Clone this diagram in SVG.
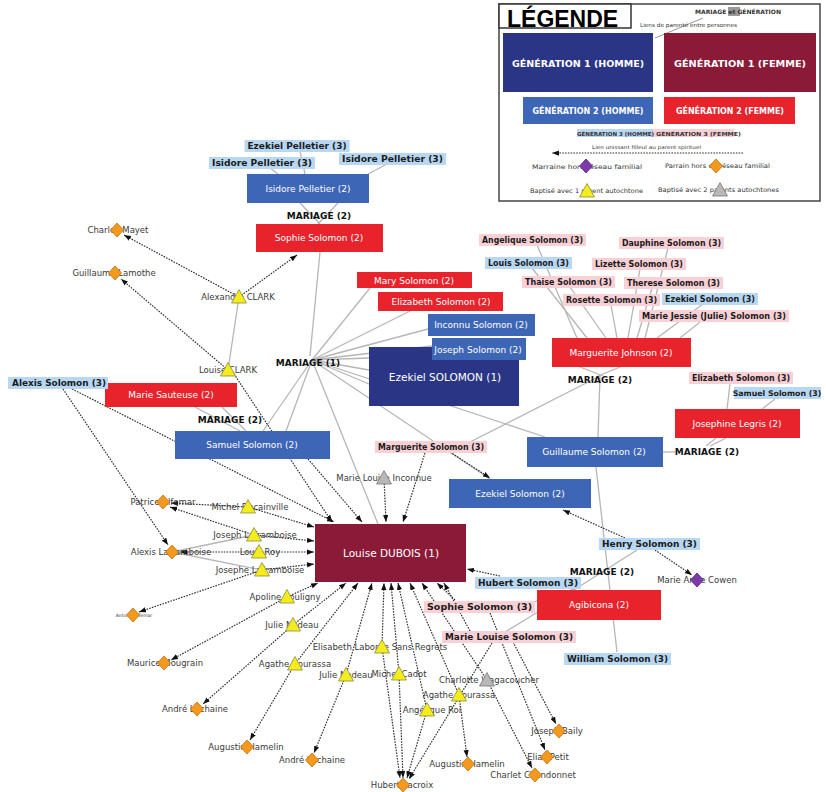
<svg xmlns="http://www.w3.org/2000/svg" xmlns:xlink="http://www.w3.org/1999/xlink" width="826" height="792" viewBox="0 0 826 792">
<defs>
<marker id="ah" viewBox="0 0 8 6" markerWidth="7" markerHeight="5.5" refX="8" refY="3" orient="auto" markerUnits="userSpaceOnUse"><path d="M0,0 L8,3 L0,6 Z" fill="#111"/></marker>
<path id="dm" d="M0,-7 L6.5,0 L0,7 L-6.5,0 Z"/>
<path id="tr" d="M0,-7.5 L7.5,6 L-7.5,6 Z"/>
<style>
.g{stroke:#b6b6b6;stroke-width:1.3;fill:none}
.d{stroke:#333;stroke-width:1.2;stroke-dasharray:1.6 1.2;fill:none;marker-end:url(#ah)}
.b1m{fill:#2a3685}.b1f{fill:#8b1a37}.b2m{fill:#3e66b6}.b2f{fill:#e8232b}
.t3m{fill:#b7d7f3}.t3f{fill:#f8d0d5}
.bt{font-family:"DejaVu Sans",Verdana,sans-serif;font-size:9px;fill:#fff;text-anchor:middle}
.bt1{font-size:10.5px}
.l3{font-family:"DejaVu Sans",Verdana,sans-serif;font-weight:bold;font-size:8.7px;fill:#1b1b1b;text-anchor:middle}
.mar{font-family:"DejaVu Sans",Verdana,sans-serif;font-weight:bold;font-size:9px;fill:#111;text-anchor:middle}
.nl{font-family:"DejaVu Sans",Verdana,sans-serif;font-size:8.5px;fill:#3a3a3a;text-anchor:middle}
.dia{fill:#f39a1e;stroke:#c6700f;stroke-width:0.8}
.pur{fill:#7d3aa8;stroke:#57277c;stroke-width:0.8}
.tri{fill:#f4ec1c;stroke:#8d8d3a;stroke-width:0.8}
.trg{fill:#b8b8b8;stroke:#777;stroke-width:0.8}
.lg{font-family:"DejaVu Sans",Verdana,sans-serif;fill:#333}
</style>
</defs>
<rect width="826" height="792" fill="#fff"/>

<g id="legend">
<rect x="499" y="4" width="321" height="197" fill="#fff" stroke="#444" stroke-width="1.5"/>
<rect x="499" y="4" width="132" height="24" fill="#fff" stroke="#333" stroke-width="1.5"/>
<text x="507" y="26.5" font-family="Liberation Sans,Arial,sans-serif" font-weight="bold" font-size="23" fill="#000">LÉGENDE</text>
<rect x="728" y="7" width="12" height="9" fill="#9a9a9a"/>
<text class="lg" x="695" y="14" font-size="6" font-weight="bold" textLength="86" lengthAdjust="spacingAndGlyphs">MARIAGE et GÉNÉRATION</text>
<line x1="655" y1="38" x2="703" y2="18" stroke="#999" stroke-width="1"/>
<text class="lg" x="640" y="27" font-size="5.5" fill="#555" textLength="97" lengthAdjust="spacingAndGlyphs">Liens de parenté entre personnes</text>
<rect x="503" y="33" width="150" height="59" class="b1m"/>
<text class="bt" x="578" y="66.5" font-weight="bold" font-size="9.5" textLength="132" lengthAdjust="spacingAndGlyphs">GÉNÉRATION 1 (HOMME)</text>
<rect x="664" y="33" width="152" height="59" class="b1f"/>
<text class="bt" x="740" y="66.5" font-weight="bold" font-size="9.5" textLength="132" lengthAdjust="spacingAndGlyphs">GÉNÉRATION 1 (FEMME)</text>
<rect x="523" y="97" width="130" height="27" class="b2m"/>
<text class="bt" x="588" y="113.5" font-weight="bold" font-size="8" textLength="111" lengthAdjust="spacingAndGlyphs">GÉNÉRATION 2 (HOMME)</text>
<rect x="664" y="97" width="131" height="27" class="b2f"/>
<text class="bt" x="730" y="113.5" font-weight="bold" font-size="8" textLength="108" lengthAdjust="spacingAndGlyphs">GÉNÉRATION 2 (FEMME)</text>
<rect x="577" y="129" width="76" height="8" class="t3m"/>
<rect x="653" y="129" width="81" height="8" class="t3f"/>
<text class="lg" x="577" y="135.5" font-size="5.5" font-weight="bold" fill="#222" textLength="77" lengthAdjust="spacingAndGlyphs">GÉNÉRATION 3 (HOMME)</text>
<text class="lg" x="656" y="135.5" font-size="5.5" font-weight="bold" fill="#222" textLength="85" lengthAdjust="spacingAndGlyphs">GÉNÉRATION 3 (FEMME)</text>
<text class="lg" x="592" y="149" font-size="5" textLength="109" lengthAdjust="spacingAndGlyphs">Lien unissant filleul au parent spirituel</text>
<line x1="743" y1="153" x2="552" y2="153" class="d"/>
<text class="lg" x="532" y="168.5" font-size="6.3" textLength="110" lengthAdjust="spacingAndGlyphs">Marraine hors réseau familial</text>
<use xlink:href="#dm" x="586" y="166" class="pur"/>
<text class="lg" x="665" y="168" font-size="6.3" textLength="105" lengthAdjust="spacingAndGlyphs">Parrain hors du réseau familial</text>
<use xlink:href="#dm" x="716" y="166" class="dia"/>
<text class="lg" x="530" y="193" font-size="6.3" textLength="113" lengthAdjust="spacingAndGlyphs">Baptisé avec 1 parent autochtone</text>
<use xlink:href="#tr" x="587" y="191" class="tri"/>
<text class="lg" x="658" y="192" font-size="6.3" textLength="121" lengthAdjust="spacingAndGlyphs">Baptisé avec 2 parents autochtones</text>
<use xlink:href="#tr" x="720" y="190" class="trg"/>
</g>

<g id="connectors">
<line class="g" x1="300" y1="151" x2="305" y2="174"/>
<line class="g" x1="270" y1="168" x2="278" y2="174"/>
<line class="g" x1="387" y1="164" x2="368" y2="174"/>
<line class="g" x1="300" y1="203" x2="320" y2="224"/>
<line class="g" x1="338" y1="203" x2="318" y2="224"/>
<line class="g" x1="320" y1="252" x2="310" y2="356"/>
<line class="g" x1="312" y1="360" x2="370" y2="288"/>
<line class="g" x1="312" y1="360" x2="410" y2="311"/>
<line class="g" x1="312" y1="360" x2="428" y2="329"/>
<line class="g" x1="312" y1="360" x2="432" y2="346"/>
<line class="g" x1="312" y1="360" x2="369" y2="358"/>
<line class="g" x1="312" y1="360" x2="369" y2="370"/>
<line class="g" x1="312" y1="360" x2="369" y2="384"/>
<line class="g" x1="312" y1="360" x2="263" y2="431"/>
<line class="g" x1="312" y1="360" x2="286" y2="431"/>
<line class="g" x1="312" y1="360" x2="378" y2="524"/>
<line class="g" x1="312" y1="360" x2="490" y2="479"/>
<line class="g" x1="312" y1="360" x2="545" y2="437"/>
<line class="g" x1="239" y1="297" x2="228" y2="370"/>
<line class="g" x1="195" y1="407" x2="240" y2="431"/>
<line class="g" x1="222" y1="407" x2="246" y2="431"/>
<line class="g" x1="254" y1="535" x2="172" y2="552"/>
<line class="g" x1="262" y1="570" x2="172" y2="552"/>
<line class="g" x1="537" y1="245" x2="577" y2="338"/>
<line class="g" x1="532" y1="268" x2="587" y2="338"/>
<line class="g" x1="570" y1="287" x2="606" y2="338"/>
<line class="g" x1="611" y1="305" x2="617" y2="338"/>
<line class="g" x1="640" y1="269" x2="628" y2="338"/>
<line class="g" x1="652" y1="288" x2="637" y2="338"/>
<line class="g" x1="668" y1="248" x2="645" y2="338"/>
<line class="g" x1="703" y1="304" x2="657" y2="338"/>
<line class="g" x1="700" y1="322" x2="680" y2="338"/>
<line class="g" x1="580" y1="367" x2="603" y2="376"/>
<line class="g" x1="620" y1="367" x2="598" y2="376"/>
<line class="g" x1="600" y1="376" x2="598" y2="437"/>
<line class="g" x1="600" y1="376" x2="470" y2="442"/>
<line class="g" x1="730" y1="384" x2="727" y2="409"/>
<line class="g" x1="775" y1="399" x2="762" y2="409"/>
<line class="g" x1="663" y1="452" x2="675" y2="452"/>
<line class="g" x1="706" y1="446" x2="716" y2="438"/>
<line class="g" x1="710" y1="446" x2="726" y2="438"/>
<line class="g" x1="577" y1="588" x2="637" y2="550"/>
<line class="g" x1="577" y1="588" x2="500" y2="613"/>
<line class="g" x1="577" y1="588" x2="505" y2="632"/>
<line class="g" x1="596" y1="467" x2="617" y2="652"/>

<line class="d" x1="239" y1="297" x2="124" y2="235"/>
<line class="d" x1="239" y1="297" x2="297" y2="255"/>
<line class="d" x1="228" y1="370" x2="121" y2="279"/>
<line class="d" x1="234" y1="374" x2="332" y2="522"/>
<line class="d" x1="63" y1="389" x2="168" y2="545"/>
<line class="d" x1="72" y1="389" x2="334" y2="522"/>
<line class="d" x1="308" y1="459" x2="362" y2="522"/>
<line class="d" x1="248" y1="507" x2="171" y2="503"/>
<line class="d" x1="248" y1="507" x2="314" y2="527"/>
<line class="d" x1="254" y1="535" x2="170" y2="507"/>
<line class="d" x1="254" y1="535" x2="314" y2="541"/>
<line class="d" x1="259" y1="552" x2="180" y2="552"/>
<line class="d" x1="259" y1="552" x2="314" y2="552"/>
<line class="d" x1="262" y1="570" x2="139" y2="612"/>
<line class="d" x1="262" y1="570" x2="314" y2="564"/>
<line class="d" x1="287" y1="597" x2="318" y2="583"/>
<line class="d" x1="287" y1="597" x2="171" y2="660"/>
<line class="d" x1="293" y1="625" x2="346" y2="583"/>
<line class="d" x1="293" y1="625" x2="203" y2="704"/>
<line class="d" x1="295" y1="664" x2="358" y2="583"/>
<line class="d" x1="295" y1="664" x2="250" y2="740"/>
<line class="d" x1="346" y1="675" x2="372" y2="583"/>
<line class="d" x1="346" y1="675" x2="314" y2="753"/>
<line class="d" x1="382" y1="647" x2="384" y2="583"/>
<line class="d" x1="382" y1="647" x2="400" y2="778"/>
<line class="d" x1="399" y1="674" x2="391" y2="583"/>
<line class="d" x1="399" y1="674" x2="403" y2="778"/>
<line class="d" x1="427" y1="710" x2="398" y2="583"/>
<line class="d" x1="427" y1="710" x2="407" y2="778"/>
<line class="d" x1="459" y1="695" x2="410" y2="583"/>
<line class="d" x1="459" y1="695" x2="467" y2="757"/>
<line class="d" x1="487" y1="680" x2="422" y2="583"/>
<line class="d" x1="487" y1="680" x2="532" y2="768"/>
<line class="d" x1="455" y1="600" x2="437" y2="583"/>
<line class="d" x1="490" y1="613" x2="545" y2="750"/>
<line class="d" x1="470" y1="631" x2="444" y2="583"/>
<line class="d" x1="513" y1="642" x2="556" y2="724"/>
<line class="d" x1="492" y1="643" x2="409" y2="779"/>
<line class="d" x1="500" y1="576" x2="467" y2="569"/>
<line class="d" x1="384" y1="478" x2="386" y2="522"/>
<line class="d" x1="425" y1="453" x2="403" y2="522"/>
<line class="d" x1="450" y1="452" x2="490" y2="478"/>
<line class="d" x1="625" y1="538" x2="563" y2="510"/>
<line class="d" x1="655" y1="550" x2="692" y2="575"/>
</g>

<g id="n-mariage-labels">
<text class="mar" x="319" y="219">MARIAGE (2)</text>
<text class="mar" x="308" y="366">MARIAGE (1)</text>
<text class="mar" x="230" y="423">MARIAGE (2)</text>
<text class="mar" x="600" y="383">MARIAGE (2)</text>
<text class="mar" x="707" y="455">MARIAGE (2)</text>
<text class="mar" x="602" y="575">MARIAGE (2)</text>
</g>

<g id="n-isidore-pelletier-2"><rect x="247" y="174" width="122" height="29" class="b2m"/><text class="bt" x="308" y="192">Isidore Pelletier (2)</text></g>
<g id="n-sophie-solomon-2"><rect x="256" y="224" width="127" height="28" class="b2f"/><text class="bt" x="319" y="241">Sophie Solomon (2)</text></g>
<g id="n-mary-solomon-2"><rect x="357" y="272" width="115" height="16" class="b2f"/><text class="bt" x="414" y="283.5">Mary Solomon (2)</text></g>
<g id="n-elizabeth-solomon-2"><rect x="378" y="292" width="125" height="19" class="b2f"/><text class="bt" x="441" y="304.5">Elizabeth Solomon (2)</text></g>
<g id="n-inconnu-solomon-2"><rect x="428" y="314" width="107" height="22" class="b2m"/><text class="bt" x="481" y="328">Inconnu Solomon (2)</text></g>
<g id="n-ezekiel-solomon-1"><rect x="369" y="347" width="150" height="59" class="b1m"/><text class="bt bt1" x="445" y="381">Ezekiel SOLOMON (1)</text></g>
<g id="n-joseph-solomon-2"><rect x="432" y="338" width="94" height="22" class="b2m"/><text class="bt" x="478" y="352.5">Joseph Solomon (2)</text></g>
<g id="n-marie-sauteuse-2"><rect x="105" y="383" width="132" height="24" class="b2f"/><text class="bt" x="171" y="398">Marie Sauteuse (2)</text></g>
<g id="n-samuel-solomon-2"><rect x="175" y="431" width="155" height="28" class="b2m"/><text class="bt" x="252" y="448">Samuel Solomon (2)</text></g>
<g id="n-marguerite-johnson-2"><rect x="552" y="338" width="139" height="29" class="b2f"/><text class="bt" x="621" y="356">Marguerite Johnson (2)</text></g>
<g id="n-josephine-legris-2"><rect x="675" y="409" width="125" height="29" class="b2f"/><text class="bt" x="737" y="426.5">Josephine Legris (2)</text></g>
<g id="n-guillaume-solomon-2"><rect x="527" y="437" width="136" height="30" class="b2m"/><text class="bt" x="594" y="455">Guillaume Solomon (2)</text></g>
<g id="n-ezekiel-solomon-2"><rect x="449" y="479" width="142" height="29" class="b2m"/><text class="bt" x="520" y="497">Ezekiel Solomon (2)</text></g>
<g id="n-agibicona-2"><rect x="537" y="590" width="124" height="30" class="b2f"/><text class="bt" x="599" y="608">Agibicona (2)</text></g>
<g id="n-louise-dubois-1"><rect x="315" y="524" width="151" height="58" class="b1f"/><text class="bt bt1" x="391" y="557">Louise DUBOIS (1)</text></g>

<g id="n-ezekiel-pelletier-3"><rect x="244.5" y="140" width="105" height="12" class="t3m"/><text class="l3" x="297" y="149.2" textLength="99" lengthAdjust="spacingAndGlyphs">Ezekiel Pelletier (3)</text></g>
<g id="n-isidore-pelletier-3a"><rect x="209" y="157" width="106" height="12" class="t3m"/><text class="l3" x="262" y="166.2" textLength="100" lengthAdjust="spacingAndGlyphs">Isidore Pelletier (3)</text></g>
<g id="n-isidore-pelletier-3b"><rect x="339" y="153" width="107" height="12" class="t3m"/><text class="l3" x="392.5" y="162.2" textLength="101" lengthAdjust="spacingAndGlyphs">Isidore Pelletier (3)</text></g>
<g id="n-angelique-solomon-3"><rect x="479" y="234" width="107" height="12" class="t3f"/><text class="l3" x="532.5" y="243.2" textLength="101" lengthAdjust="spacingAndGlyphs">Angelique Solomon (3)</text></g>
<g id="n-louis-solomon-3"><rect x="485" y="257" width="87" height="12" class="t3m"/><text class="l3" x="528.5" y="266.2" textLength="81" lengthAdjust="spacingAndGlyphs">Louis Solomon (3)</text></g>
<g id="n-thaise-solomon-3"><rect x="522" y="276" width="93" height="12" class="t3f"/><text class="l3" x="568.5" y="285.2" textLength="87" lengthAdjust="spacingAndGlyphs">Thaise Solomon (3)</text></g>
<g id="n-dauphine-solomon-3"><rect x="619" y="237" width="105" height="12" class="t3f"/><text class="l3" x="671.5" y="246.2" textLength="99" lengthAdjust="spacingAndGlyphs">Dauphine Solomon (3)</text></g>
<g id="n-lizette-solomon-3"><rect x="592" y="258" width="94" height="12" class="t3f"/><text class="l3" x="639" y="267.2" textLength="88" lengthAdjust="spacingAndGlyphs">Lizette Solomon (3)</text></g>
<g id="n-therese-solomon-3"><rect x="624" y="277" width="99" height="12" class="t3f"/><text class="l3" x="673.5" y="286.2" textLength="93" lengthAdjust="spacingAndGlyphs">Therese Solomon (3)</text></g>
<g id="n-rosette-solomon-3"><rect x="563" y="294" width="97" height="12" class="t3f"/><text class="l3" x="611.5" y="303.2" textLength="91" lengthAdjust="spacingAndGlyphs">Rosette Solomon (3)</text></g>
<g id="n-ezekiel-solomon-3"><rect x="662" y="293" width="96" height="12" class="t3m"/><text class="l3" x="710" y="302.2" textLength="90" lengthAdjust="spacingAndGlyphs">Ezekiel Solomon (3)</text></g>
<g id="n-marie-jessie-solomon-3"><rect x="639" y="310" width="150" height="12" class="t3f"/><text class="l3" x="714" y="319.2" textLength="144" lengthAdjust="spacingAndGlyphs">Marie Jessie (Julie) Solomon (3)</text></g>
<g id="n-elizabeth-solomon-3"><rect x="689" y="372" width="104" height="12" class="t3f"/><text class="l3" x="741" y="381.2" textLength="98" lengthAdjust="spacingAndGlyphs">Elizabeth Solomon (3)</text></g>
<g id="n-samuel-solomon-3"><rect x="734" y="387" width="87" height="12" class="t3m"/><text class="l3" x="777" y="396" style="font-size:7.8px">Samuel Solomon (3)</text></g>
<g id="n-alexis-solomon-3"><rect x="8" y="377" width="100" height="12" class="t3m"/><text class="l3" x="59" y="386.2" textLength="94" lengthAdjust="spacingAndGlyphs">Alexis Solomon (3)</text></g>
<g id="n-marguerite-solomon-3"><rect x="375" y="441" width="112" height="12" class="t3f"/><text class="l3" x="431" y="450.2" textLength="106" lengthAdjust="spacingAndGlyphs">Marguerite Solomon (3)</text></g>
<g id="n-henry-solomon-3"><rect x="599" y="538" width="101" height="12" class="t3m"/><text class="l3" x="649.5" y="547.2" textLength="95" lengthAdjust="spacingAndGlyphs">Henry Solomon (3)</text></g>
<g id="n-hubert-solomon-3"><rect x="475" y="577" width="106" height="12" class="t3m"/><text class="l3" x="528" y="586.2" textLength="100" lengthAdjust="spacingAndGlyphs">Hubert Solomon (3)</text></g>
<g id="n-sophie-solomon-3"><rect x="424" y="601" width="111" height="12" class="t3f"/><text class="l3" x="479.5" y="610.2" textLength="105" lengthAdjust="spacingAndGlyphs">Sophie Solomon (3)</text></g>
<g id="n-marie-louise-solomon-3"><rect x="442" y="631" width="134" height="12" class="t3f"/><text class="l3" x="509" y="640.2" textLength="128" lengthAdjust="spacingAndGlyphs">Marie Louise Solomon (3)</text></g>
<g id="n-william-solomon-3"><rect x="564" y="653" width="107" height="12" class="t3m"/><text class="l3" x="617.5" y="662.2" textLength="101" lengthAdjust="spacingAndGlyphs">William Solomon (3)</text></g>

<g id="n-charles-mayet"><text class="nl" x="118" y="233">Charles Mayet</text><use xlink:href="#dm" x="117" y="230" class="dia"/></g>
<g id="n-guillaume-lamothe"><text class="nl" x="114" y="276">Guillaume Lamothe</text><use xlink:href="#dm" x="115" y="273" class="dia"/></g>
<g id="n-patrice-alfemar"><text class="nl" x="163" y="505">Patrice Alfemar</text><use xlink:href="#dm" x="163" y="502" class="dia"/></g>
<g id="n-alexis-laframboise"><text class="nl" x="171" y="555">Alexis Laframboise</text><use xlink:href="#dm" x="172" y="552" class="dia"/></g>
<g id="n-antoine-alfemar"><text class="nl" x="134" y="616.5" style="font-size:4.5px">Antoine Alfemar</text><use xlink:href="#dm" x="133" y="615" class="dia"/></g>
<g id="n-maurice-mougrain"><text class="nl" x="165" y="666">Maurice Mougrain</text><use xlink:href="#dm" x="164" y="663" class="dia"/></g>
<g id="n-andre-lachaine-a"><text class="nl" x="195" y="712">André Lachaine</text><use xlink:href="#dm" x="197" y="709" class="dia"/></g>
<g id="n-augustin-hamelin-a"><text class="nl" x="246" y="750">Augustin Hamelin</text><use xlink:href="#dm" x="247" y="747" class="dia"/></g>
<g id="n-andre-lachaine-b"><text class="nl" x="312" y="763">André Lachaine</text><use xlink:href="#dm" x="312" y="760" class="dia"/></g>
<g id="n-hubert-lacroix"><text class="nl" x="402" y="788">Hubert Lacroix</text><use xlink:href="#dm" x="403" y="785" class="dia"/></g>
<g id="n-augustin-hamelin-b"><text class="nl" x="467" y="767">Augustin Hamelin</text><use xlink:href="#dm" x="468" y="764" class="dia"/></g>
<g id="n-joseph-baily"><text class="nl" x="557" y="734">Joseph Baily</text><use xlink:href="#dm" x="559" y="731" class="dia"/></g>
<g id="n-elias-petit"><text class="nl" x="548" y="760">Elias Petit</text><use xlink:href="#dm" x="547" y="757" class="dia"/></g>
<g id="n-charlet-chandonnet"><text class="nl" x="533" y="778">Charlet Chandonnet</text><use xlink:href="#dm" x="535" y="775" class="dia"/></g>
<g id="n-marie-anne-cowen"><text class="nl" x="697" y="583">Marie Anne Cowen</text><use xlink:href="#dm" x="697" y="580" class="pur"/></g>

<g id="n-alexandre-clark"><text class="nl" x="238" y="300">Alexandre CLARK</text><use xlink:href="#tr" x="239" y="297" class="tri"/></g>
<g id="n-louise-clark"><text class="nl" x="228" y="373">Louise CLARK</text><use xlink:href="#tr" x="228" y="370" class="tri"/></g>
<g id="n-michel-decainville"><text class="nl" x="250" y="510">Michel Decainville</text><use xlink:href="#tr" x="248" y="507" class="tri"/></g>
<g id="n-joseph-laframboise"><text class="nl" x="255" y="538">Joseph Laframboise</text><use xlink:href="#tr" x="254" y="535" class="tri"/></g>
<g id="n-louis-roy"><text class="nl" x="260" y="555">Louis Roy</text><use xlink:href="#tr" x="259" y="552" class="tri"/></g>
<g id="n-josephe-laframboise"><text class="nl" x="260" y="573">Josephe Laframboise</text><use xlink:href="#tr" x="262" y="570" class="tri"/></g>
<g id="n-apoline-souligny"><text class="nl" x="285" y="600">Apoline Souligny</text><use xlink:href="#tr" x="287" y="597" class="tri"/></g>
<g id="n-julie-nadeau-a"><text class="nl" x="292" y="628">Julie Nadeau</text><use xlink:href="#tr" x="293" y="625" class="tri"/></g>
<g id="n-agathe-bourassa-a"><text class="nl" x="295" y="667">Agathe Bourassa</text><use xlink:href="#tr" x="295" y="664" class="tri"/></g>
<g id="n-elisabeth-laborde"><text class="nl" x="380" y="650">Elisabeth Laborde Sans Regrets</text><use xlink:href="#tr" x="382" y="647" class="tri"/></g>
<g id="n-julie-nadeau-b"><text class="nl" x="346" y="678">Julie Nadeau</text><use xlink:href="#tr" x="346" y="675" class="tri"/></g>
<g id="n-michel-cadot"><text class="nl" x="399" y="677">Michel Cadot</text><use xlink:href="#tr" x="399" y="674" class="tri"/></g>
<g id="n-charlotte-wagacoucher"><text class="nl" x="489" y="683">Charlotte Wagacoucher</text><use xlink:href="#tr" x="487" y="680" class="trg"/></g>
<g id="n-agathe-bourassa-b"><text class="nl" x="459" y="698">Agathe Bourassa</text><use xlink:href="#tr" x="459" y="695" class="tri"/></g>
<g id="n-angelique-roi"><text class="nl" x="432" y="713">Angélique Roi</text><use xlink:href="#tr" x="427" y="710" class="tri"/></g>
<g id="n-marie-louise-inconnue"><text class="nl" x="384" y="481">Marie Louise Inconnue</text><use xlink:href="#tr" x="384" y="478" class="trg"/></g>
</svg>
